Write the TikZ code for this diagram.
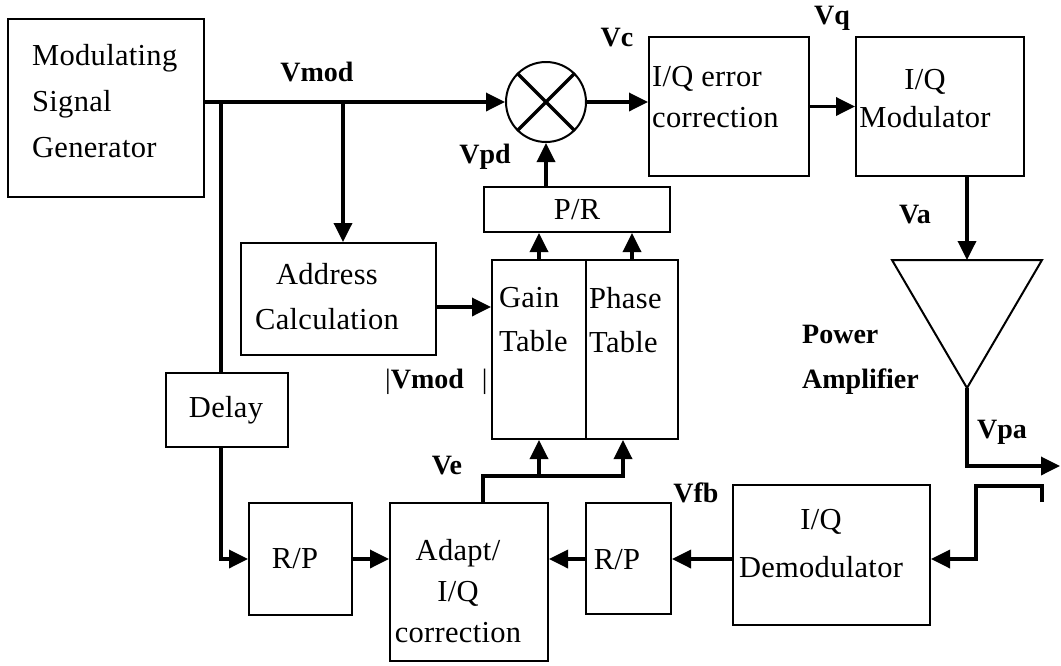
\documentclass[tikz,border=0pt]{standalone}
\usepackage{fontspec}
\setmainfont{Liberation Serif}
\newfontfamily\txtfont{Liberation Serif}[LetterSpace=1]
\newfontfamily\lblfont{Liberation Serif}
\usetikzlibrary{arrows.meta}
\tikzset{
  blk/.style={draw, line width=2pt, inner sep=0pt, rectangle},
  conn/.style={line width=3.5pt, -{Triangle[length=19pt,width=18pt]}},
  plain/.style={line width=3.5pt},
  txt/.style={inner sep=0pt, font=\txtfont\fontsize{30.5}{44}\selectfont},
  lbl/.style={inner sep=0pt, font=\lblfont\fontsize{28}{44}\selectfont\bfseries},
}
\newcommand{\boxat}[5]{\node[blk, minimum width={(#4-#2)*1pt}, minimum height={(#5-#3)*1pt}] (#1) at ({(#2+#4)/2},{(#3+#5)/2}) {};}
\begin{document}
\begin{tikzpicture}[x=1pt,y=-1pt]
\path[use as bounding box] (0,0) rectangle (1061,665);
% boxes
\boxat{msg}{8}{19}{204}{197}
\boxat{iqerr}{649}{37}{809}{176}
\boxat{mod}{856}{37}{1024}{176}
\boxat{pr}{484}{187}{670}{232}
\boxat{addr}{241}{243}{436}{355}
\boxat{gain}{492}{260}{586}{439}
\boxat{phase}{586}{260}{678}{439}
\boxat{delay}{166}{373}{288}{447}
\boxat{rp1}{249}{503}{352}{615}
\boxat{adapt}{390}{503}{548}{661}
\boxat{rp2}{586}{503}{671}{614}
\boxat{demod}{733}{485}{930}{625}
\node[draw, circle, line width=2pt, minimum size=80pt, inner sep=0pt] (mix) at (546,102) {};
\draw[line width=3.5pt] (mix.north west) -- (mix.south east) (mix.north east) -- (mix.south west);
% power amplifier
\coordinate (patl) at (892,260);
\coordinate (patr) at (1042,260);
\coordinate (patop) at (967,260);
\coordinate (apex) at (967,388);
\draw[line width=2pt, line join=miter] (patl) -- (patr) -- (apex) -- cycle;
% texts
\node[txt, align=left, anchor=west] (tmsg) at (32,101) {Modulating\\[2pt]Signal\\[2pt]Generator};
\node[txt, align=left, anchor=west] (tiq) at (652,97) {I/Q error\\[-3pt]correction};
\node[txt, align=center] (tmod) at (925,99) {I/Q\\[-6pt]Modulator};
\node[txt] (tpr) at (pr.center) {P/R};
\node[txt, align=center] (taddr) at (327,297) {Address\\[1pt]Calculation};
\node[txt, align=left, anchor=west] (tgain) at (499,320) {Gain\\Table};
\node[txt, align=left, anchor=west] (tphase) at (589,320) {Phase\\Table};
\node[txt] (tdelay) at (226,410) {Delay};
\node[txt] (trp1) at (295,559) {R/P};
\node[txt] (trp2) at (617,560) {R/P};
\node[txt, align=center] (tadapt) at (458,591) {Adapt/\\[-3pt]I/Q\\[-3pt]correction};
\node[txt, align=center] (tdemod) at (821,544) {I/Q\\[4pt]Demodulator};
% labels
\node[lbl] (lvmod) at (317,72) {Vmod};
\node[lbl] (lvc) at (617,38) {Vc};
\node[lbl] (lvq) at (832,18) {Vq};
\node[lbl] (lvpd) at (485,157) {Vpd};
\node[lbl] (lva) at (915,215) {Va};
\node[lbl] (lvpa) at (1002,432) {Vpa};
\node[lbl] (lve) at (447,466) {Ve};
\node[lbl] (lvfb) at (696,493) {Vfb};
\node[lbl, anchor=west] (labs) at (385,382) {{\mdseries|}Vmod\hspace{18pt}{\mdseries|}};
\node[lbl, align=left, anchor=west] (lpa) at (802,360) {Power\\[1pt]Amplifier};
% connectors
\coordinate (j1) at (221,102);
\coordinate (j2) at (343,102);
\draw[conn] (msg.east |- mix.west) -- (mix.west);
\draw[plain] (j1) -- (j1 |- delay.north);
\draw[conn] (j2) -- (j2 |- addr.north);
\draw[conn] (j1 |- delay.south) |- (rp1.west);
\coordinate (ae) at ([yshift=-8pt]addr.east);
\draw[conn] (ae) -- (ae -| gain.west);
\draw[conn] (gain.north) -- (gain.north |- pr.south);
\draw[conn] (phase.north) -- (phase.north |- pr.south);
\draw[conn] (mix.south |- pr.north) -- (mix.south);
\draw[conn] (mix.east) -- (mix.east -| iqerr.west);
\draw[conn] (iqerr.east) -- (iqerr.east -| mod.west);
\draw[conn] (mod.south -| patop) -- (patop);
\coordinate (out) at (1060,466);
\draw[conn] (apex) |- (out);
\coordinate (cpA) at (1042,502);
\coordinate (cpB) at (976,486);
\draw[conn] (cpA) |- (cpB) |- (demod.east |- rp1.west);
\draw[conn] (demod.west |- rp1.west) -- (rp2.east |- rp1.west);
\draw[conn] (rp2.west |- rp1.west) -- (adapt.east |- rp1.west);
\draw[conn] (rp1.east) -- (rp1.east -| adapt.west);
\coordinate (ve0) at (483,476);
\coordinate (vb1) at (539,476);
\coordinate (vb2) at (623,476);
\draw[conn] (adapt.north -| ve0) -- (ve0) -- (vb2) -- (vb2 |- gain.south);
\draw[conn] (vb1) -- (vb1 |- gain.south);
\end{tikzpicture}
\end{document}
